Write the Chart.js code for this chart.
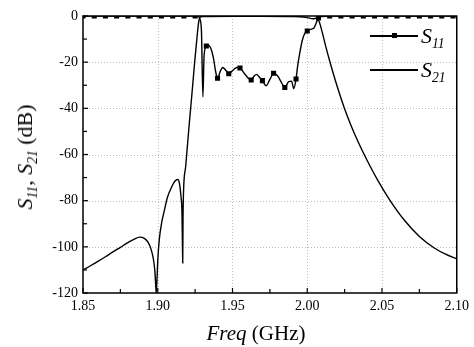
<!DOCTYPE html>
<html>
<head>
<meta charset="utf-8">
<script src="https://cdn.jsdelivr.net/npm/chart.js@4/dist/chart.umd.min.js"></script>
<style>
  body { margin: 0; background: #fff; }
  #wrap { position: relative; width: 474px; height: 347px; font-family: "Liberation Serif", "Times New Roman", serif; color: #000; }
  #wrap canvas { position: absolute; left: 0; top: 0; }
  .ytitle { position: absolute; left: 25px; top: 157px; transform: translate(-50%, -50%) rotate(-90deg); font-size: 22px; white-space: nowrap; }
  .xtitle { position: absolute; left: 256px; top: 333px; transform: translate(-50%, -50%); font-size: 21px; white-space: nowrap; }
  sub { font-size: 0.62em; font-style: italic; vertical-align: -0.35em; line-height: 0; }
  .leg { position: absolute; left: 370px; width: 48px; height: 1.5px; background: #000; }
  .leg .mk { position: absolute; left: 21.5px; top: -2px; width: 5px; height: 5px; background: #000; }
  .legtxt { position: absolute; left: 421px; font-size: 22px; white-space: nowrap; line-height: 1; }
</style>
</head>
<body>
<div id="wrap">
  <canvas id="spChart"></canvas>
  <div class="ytitle"><i>S</i><sub>11</sub>, <i>S</i><sub>21</sub> (dB)</div>
  <div class="xtitle"><i>Freq</i> (GHz)</div>
  <div class="leg" style="top:35px"><div class="mk"></div></div>
  <div class="legtxt" style="top:25px"><i>S</i><sub>11</sub></div>
  <div class="leg" style="top:69px"></div>
  <div class="legtxt" style="top:59px"><i>S</i><sub>21</sub></div>
</div>
<script>
// S21 (GHz, dB)
const s21Freq = [1.850, 1.855, 1.860, 1.865, 1.870, 1.875, 1.880, 1.884, 1.888, 1.891, 1.8935, 1.8955,
  1.897, 1.898, 1.8985, 1.899, 1.8995, 1.900, 1.901, 1.9025, 1.9045, 1.9065, 1.909, 1.911, 1.9125,
  1.9135, 1.9145, 1.9155, 1.9162, 1.9165, 1.9167, 1.9169, 1.9172, 1.9187, 1.920, 1.9213, 1.9227,
  1.9247, 1.926, 1.9273, 1.9283, 1.930, 1.950, 1.970, 1.990, 1.995, 2.000, 2.004, 2.0065, 2.008,
  2.010, 2.0125, 2.015, 2.018, 2.021, 2.0245, 2.029, 2.034, 2.040, 2.047, 2.055, 2.065, 2.075,
  2.085, 2.0925, 2.100];
const s21Val = [-110, -108.2, -106.3, -104.3, -102.2, -100.2, -98.2, -96.8, -95.8, -96.3, -98.0, -101,
  -105, -110, -115, -120, -114, -106, -97, -90, -84, -78.5, -74.5, -72, -71,
  -70.8, -72.5, -78, -85, -98, -107, -88, -77, -65, -55, -45, -35,
  -20, -11, -3, -0.5, -0.2, -0.1, -0.1, -0.2, -0.3, -0.7, -1.2, -0.8, -2.5,
  -7, -13.5, -19.5, -26.2, -32.5, -39.3, -47, -54.5, -62.5, -71, -79.5, -88.5, -95.5,
  -100.5, -103.2, -105.2];

// S11 (GHz, dB)
const s11Freq = [1.850, 1.8575, 1.865, 1.8725, 1.880, 1.8875, 1.895, 1.9025, 1.910, 1.9175, 1.925,
  1.927, 1.928, 1.9292, 1.9302, 1.931, 1.9325, 1.9338, 1.9355, 1.9372, 1.9387, 1.940, 1.9418, 1.9435,
  1.9455, 1.9475, 1.9495, 1.9515, 1.953, 1.955, 1.958, 1.9625, 1.9645, 1.966, 1.968, 1.970, 1.9725,
  1.975, 1.9775, 1.980, 1.9825, 1.985, 1.9875, 1.9895, 1.991, 1.9925, 1.9935, 1.995, 1.9967, 1.998,
  2.000, 2.002, 2.0045, 2.006, 2.0075, 2.010, 2.015, 2.0225, 2.030, 2.0375, 2.045, 2.0525, 2.060,
  2.0675, 2.075, 2.0825, 2.090, 2.0975, 2.100];
const s11Val = [0, 0, 0, 0, 0, 0, 0, 0, 0, 0, 0,
  0, -1, -6, -35, -17, -13, -12.6, -14, -18, -24, -27, -24, -22.3,
  -23.5, -25, -24, -22.8, -22.3, -22.5, -25, -27.7, -26, -25.3, -26.5, -28, -30.2,
  -27.5, -24.8, -25.8, -28.5, -31, -28.5, -28.2, -31.5, -27.3, -22, -16, -10.5, -8,
  -6.5, -5.8, -5.2, -3, -0.8, -0.2, 0, 0, 0, 0, 0, 0, 0,
  0, 0, 0, 0, 0, 0];

const markStep = 0.0075;
const isMark = f => {
  const k = (f - 1.85) / markStep;
  return Math.abs(k - Math.round(k)) < 1e-4;
};

const frame = {
  id: 'frame',
  beforeDatasetsDraw(chart) {
    const { ctx, chartArea: a, scales: { x, y } } = chart;
    ctx.save();
    ctx.strokeStyle = '#bdbdbd';
    ctx.lineWidth = 1;
    ctx.setLineDash([1, 2]);
    x.ticks.forEach(t => {
      const px = Math.round(x.getPixelForValue(t.value)) + 0.5;
      if (px <= a.left + 2 || px >= a.right - 2) return;
      ctx.beginPath(); ctx.moveTo(px, a.top); ctx.lineTo(px, a.bottom); ctx.stroke();
    });
    y.ticks.forEach(t => {
      const py = Math.round(y.getPixelForValue(t.value)) + 0.5;
      if (py <= a.top + 2 || py >= a.bottom - 2) return;
      ctx.beginPath(); ctx.moveTo(a.left, py); ctx.lineTo(a.right, py); ctx.stroke();
    });
    ctx.restore();
  },
  afterDatasetsDraw(chart) {
    const { ctx, chartArea: a, scales: { x, y } } = chart;
    ctx.save();
    ctx.strokeStyle = '#000';
    ctx.lineWidth = 1.2;
    // inward ticks, major + minor
    const xt = x.ticks.map(t => t.value);
    for (let i = 0; i < xt.length; i++) {
      const px = x.getPixelForValue(xt[i]);
      ctx.beginPath(); ctx.moveTo(px, a.bottom); ctx.lineTo(px, a.bottom - 5); ctx.stroke();
      if (i < xt.length - 1) {
        const pm = x.getPixelForValue((xt[i] + xt[i + 1]) / 2);
        ctx.beginPath(); ctx.moveTo(pm, a.bottom); ctx.lineTo(pm, a.bottom - 4); ctx.stroke();
      }
    }
    const yt = y.ticks.map(t => t.value);
    for (let i = 0; i < yt.length; i++) {
      const py = y.getPixelForValue(yt[i]);
      ctx.beginPath(); ctx.moveTo(a.left, py); ctx.lineTo(a.left + 5, py); ctx.stroke();
      if (i < yt.length - 1) {
        const pm = y.getPixelForValue((yt[i] + yt[i + 1]) / 2);
        ctx.beginPath(); ctx.moveTo(a.left, pm); ctx.lineTo(a.left + 4, pm); ctx.stroke();
      }
    }
    ctx.lineWidth = 1.5;
    ctx.strokeRect(a.left, a.top, a.right - a.left, a.bottom - a.top);
    ctx.restore();
  }
};

const tickFont = { family: '"Liberation Serif", "Times New Roman", serif', size: 14 };

new Chart(document.getElementById('spChart'), {
  type: 'line',
  data: {
    datasets: [{
      label: 'S11',
      data: s11Freq.map((f, i) => ({ x: f, y: s11Val[i] })),
      borderColor: '#000',
      borderWidth: 1.4,
      cubicInterpolationMode: 'monotone',
      pointStyle: 'rect',
      pointRadius: c => isMark(c.raw.x) ? 3.6 : 0,
      pointBackgroundColor: '#000',
      pointBorderWidth: 0
    }, {
      label: 'S21',
      data: s21Freq.map((f, i) => ({ x: f, y: s21Val[i] })),
      borderColor: '#000',
      borderWidth: 1.4,
      cubicInterpolationMode: 'monotone',
      pointRadius: 0
    }]
  },
  options: {
    responsive: true,
    maintainAspectRatio: false,
    animation: false,
    layout: { padding: { top: 16, right: 16, left: 0, bottom: 0 } },
    plugins: { legend: { display: false }, tooltip: { enabled: false } },
    scales: {
      x: {
        type: 'linear',
        min: 1.85,
        max: 2.10,
        afterFit: s => { s.height = 54; },
        grid: { display: false, drawTicks: false, tickLength: 0 },
        border: { display: false },
        ticks: { stepSize: 0.05, padding: 5, color: '#000', font: tickFont, maxRotation: 0,
          callback: v => v.toFixed(2) }
      },
      y: {
        type: 'linear',
        min: -120,
        max: 0,
        afterFit: s => { s.width = 83; },
        grid: { display: false, drawTicks: false, tickLength: 0 },
        border: { display: false },
        ticks: { stepSize: 20, padding: 5, color: '#000', font: tickFont }
      }
    }
  },
  plugins: [frame]
});
</script>
</body>
</html>
